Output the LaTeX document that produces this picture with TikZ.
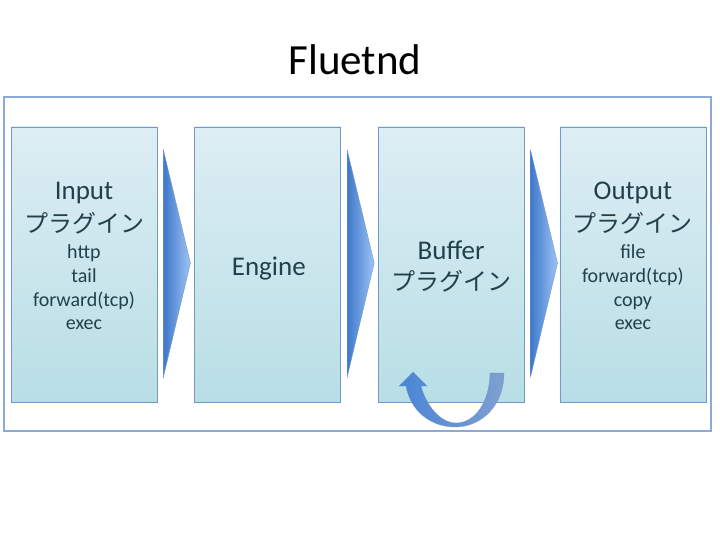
\documentclass[tikz,border=0pt]{standalone}
\usepackage{fontspec}
\setmainfont{Carlito}
\newfontfamily\jpfont{Noto Sans CJK JP}
\usetikzlibrary{calc,positioning}
\definecolor{boxtop}{HTML}{DDEEF4}
\definecolor{boxbot}{HTML}{B8DEE5}
\definecolor{boxline}{HTML}{7398CB}
\definecolor{frameline}{HTML}{8DA9D6}
\definecolor{txt}{HTML}{22404B}
\definecolor{arrdark}{HTML}{3E78CA}
\definecolor{arrlight}{HTML}{9EC3F5}
\definecolor{loopleft}{HTML}{4A85D6}
\definecolor{loopright}{HTML}{7F9FD0}

\begin{document}
\begin{tikzpicture}[x=1pt, y=-1pt,
  plugbox/.style={draw=boxline, line width=0.8pt, top color=boxtop, bottom color=boxbot,
    minimum width=146pt, minimum height=275pt, inner sep=0pt},
  head/.style={font=\fontsize{27}{30}\selectfont, text=txt, anchor=base},
  kana/.style={font=\jpfont\fontsize{24}{26}\selectfont, text=txt, anchor=base},
  item/.style={font=\fontsize{20}{22}\selectfont, text=txt, anchor=base},
  flow/.style={draw=boxline, line width=0.4pt, left color=arrdark, right color=arrlight}]
  \useasboundingbox (0,0) rectangle (720,540);

  % Title
  \node[font=\fontsize{43}{46}\selectfont, anchor=base] (title) at (355,75) {Fluetnd};

  % outer frame
  \draw[frameline, line width=1.2pt] (4,97) rectangle (711,431);

  % === four stages ===
  \node[plugbox] (input) at (84,264.5) {};
  \node[plugbox, right=37pt of input] (engine) {};
  \node[plugbox, right=36.5pt of engine] (buffer) {};
  \node[plugbox, right=35pt of buffer] (output) {};

  % flow triangles between the stages
  \foreach \a in {input,engine,buffer}{
    \draw[flow] ($(\a.east)+(6,-114.5)$) -- ($(\a.east)+(33,-1.5)$)
      -- ($(\a.east)+(6,112.5)$) -- cycle;
  }

  % (1) Input
  \node[head] (inhead) at ($(input.north)+(0,73)$) {Input};
  \node[kana] (inkana) at ($(input.north)+(0,106)$) {プラグイン};
  \node[item] (in1) at ($(input.north)+(0,132)$) {http};
  \node[item] (in2) at ($(input.north)+(0,156)$) {tail};
  \node[item] (in3) at ($(input.north)+(0,180)$) {forward(tcp)};
  \node[item] (in4) at ($(input.north)+(0,203)$) {exec};

  % (2) Engine
  \node[head] (enghead) at ($(engine.north)+(1,149)$) {Engine};

  % (3) Buffer
  \node[head] (bufhead) at ($(buffer.north)+(0,133)$) {Buffer};
  \node[kana] (bufkana) at ($(buffer.north)+(0,164)$) {プラグイン};

  % (4) Output
  \node[head] (outhead) at ($(output.north)+(0,73)$) {Output};
  \node[kana] (outkana) at ($(output.north)+(0,106)$) {プラグイン};
  \node[item] (out1) at ($(output.north)+(0,132)$) {file};
  \node[item] (out2) at ($(output.north)+(0,156)$) {forward(tcp)};
  \node[item] (out3) at ($(output.north)+(0,180)$) {copy};
  \node[item] (out4) at ($(output.north)+(0,203)$) {exec};

  % loop arrow under the buffer
  \draw[draw=boxline, line width=0.3pt, left color=loopleft, right color=loopright]
    (504,373) .. controls (504,405) and (482,427) .. (455,427)
    .. controls (430,427) and (410,410) .. (406,386)
    -- (399,386) -- (413,372) -- (427,386) -- (421,386)
    .. controls (426,405) and (440,423) .. (456,423)
    .. controls (476,423) and (490,400) .. (490,373) -- cycle;
\end{tikzpicture}
\end{document}
